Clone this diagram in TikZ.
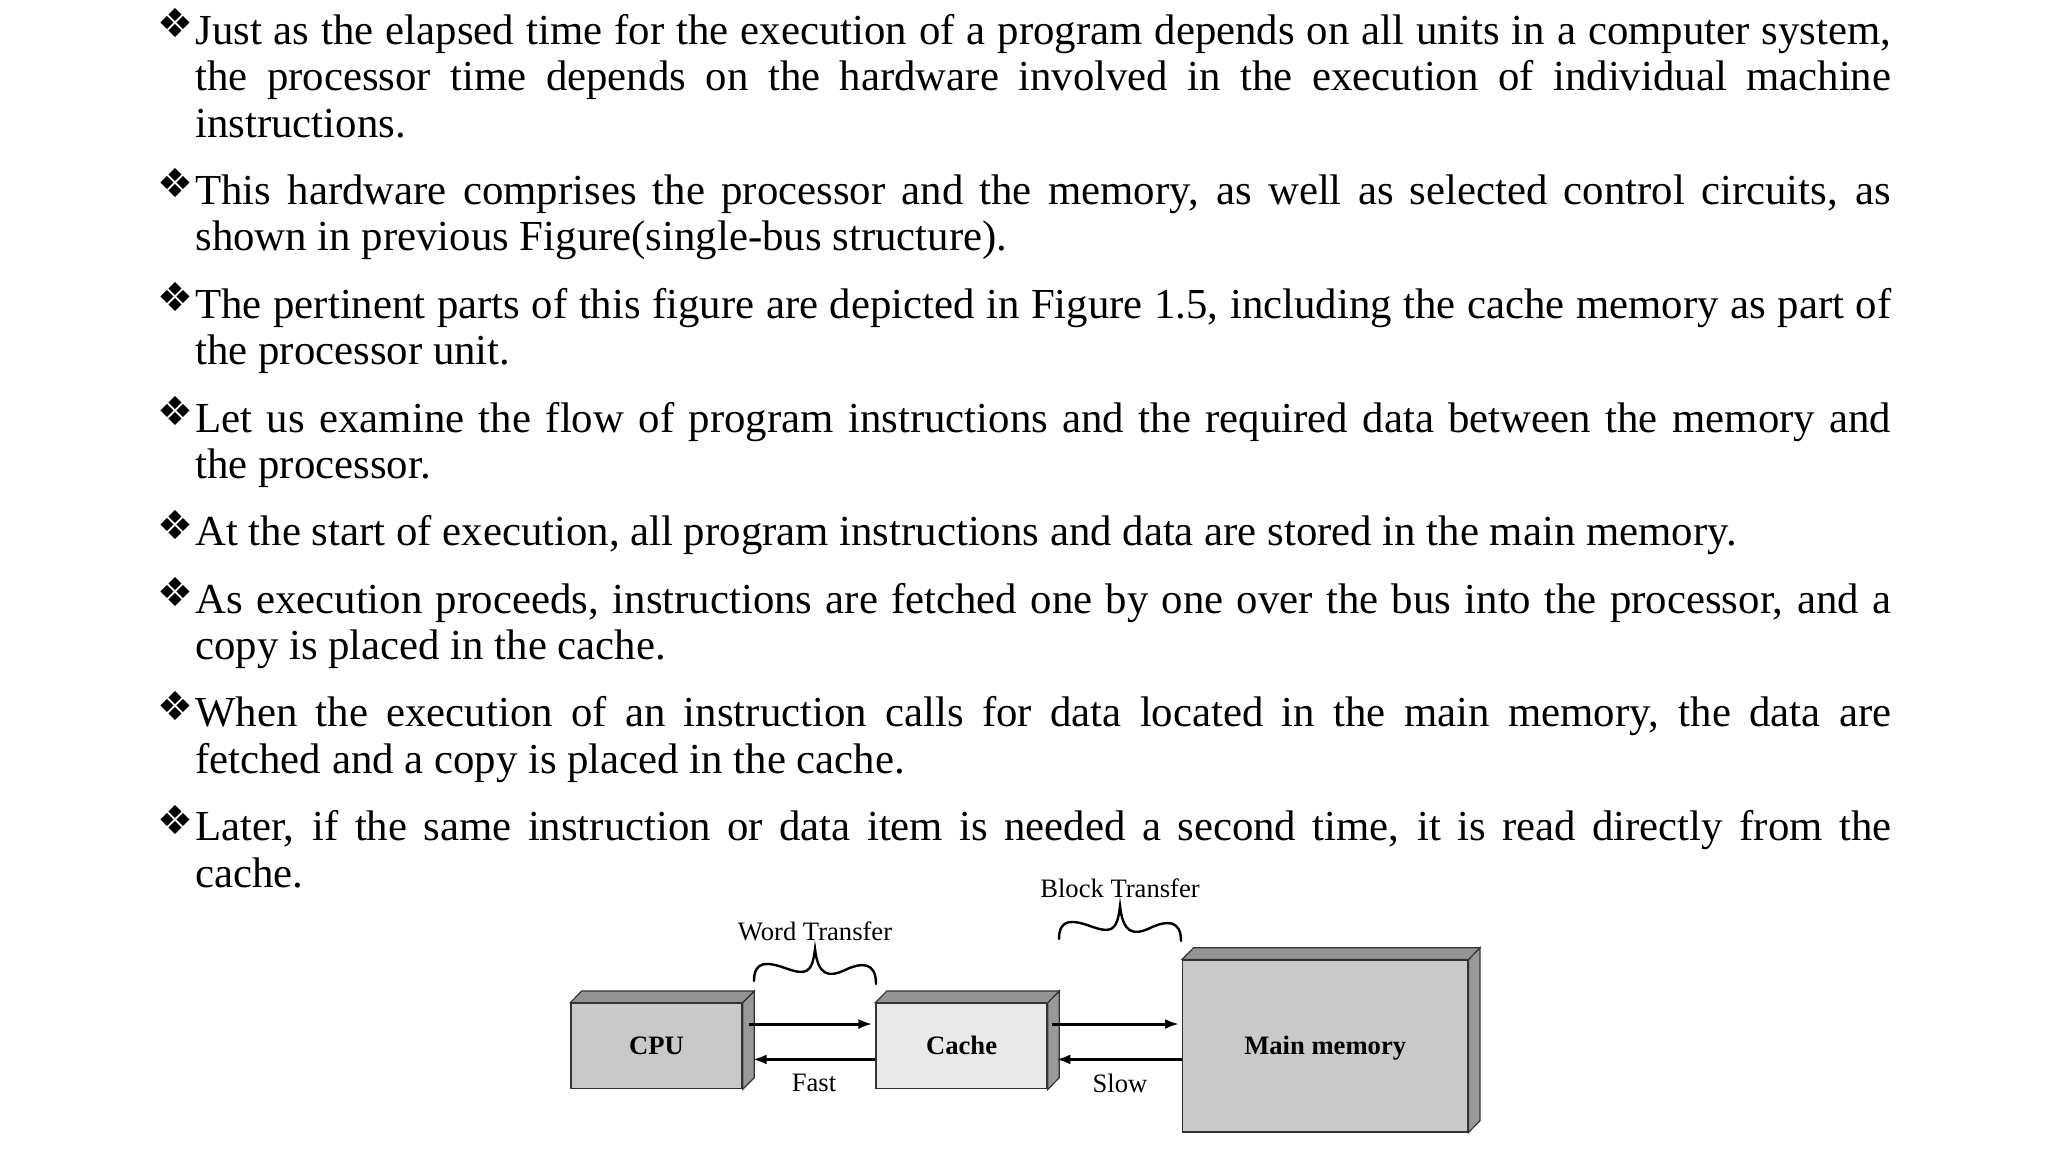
\documentclass[tikz,border=0pt]{standalone}
\usepackage{fontspec}
\setmainfont{Liberation Serif}
\newfontfamily\dejavu{DejaVu Sans}
\usetikzlibrary{arrows.meta, positioning}
\definecolor{frontgray}{gray}{0.79}
\definecolor{cachegray}{gray}{0.91}
\definecolor{topgray}{gray}{0.58}
\definecolor{sidegray}{gray}{0.6}
\definecolor{edgegray}{gray}{0.2}
% top and right faces behind a front box
\newcommand{\sideface}[1]{%
\draw[line width=0.6pt, edgegray, fill=sidegray] ([xshift=5.75pt,yshift=5.85pt]#1.north east) -- ([xshift=5.75pt,yshift=5.85pt]#1.south east) -- (#1.south east) -- (#1.north east) -- cycle;
\draw[line width=0.6pt, edgegray, fill=topgray] (#1.north west) -- ([xshift=5.75pt,yshift=5.85pt]#1.north west) -- ([xshift=5.75pt,yshift=5.85pt]#1.north east) -- (#1.north east) -- cycle;
\draw[line width=1pt, edgegray] (#1.north west) -- (#1.north east);
}
\begin{document}
\begin{tikzpicture}[x=0.5pt, y=-0.5pt, >={Latex[length=7pt,width=5pt]},
  para/.style={anchor=north west, text width=847.9pt, align=justify, inner sep=0pt, font=\fontsize{21.4}{23.15}\selectfont},
  bullet/.style={inner sep=0pt, font=\dejavu\fontsize{20}{20}\selectfont},
  unit/.style={draw=edgegray, line width=0.7pt, inner sep=0pt, minimum height=42.7pt, text height=9pt, text depth=1pt, font=\bfseries\fontsize{13.3}{15}\selectfont},
  flow/.style={->, line width=1.5pt},
  lab/.style={inner sep=0pt, font=\fontsize{13.3}{15}\selectfont},
  brace/.style={line width=1.2pt, line cap=round}]
\useasboundingbox (0,0) rectangle (2048,1152);
\node[para] (p1) at (195,11.6) {\strut Just as the elapsed time for the execution of a program depends on all units in a computer system,\linebreak the processor time depends on the hardware involved in the execution of individual machine\linebreak instructions.\strut};
\node[para, below=10.18pt of p1.south west, anchor=north west] (p2) {\strut This hardware comprises the processor and the memory, as well as selected control circuits, as\linebreak shown in previous Figure(single-bus structure).\strut};
\node[para, below=10.18pt of p2.south west, anchor=north west] (p3) {\strut The pertinent parts of this figure are depicted in Figure 1.5, including the cache memory as part of\linebreak the processor unit.\strut};
\node[para, below=10.18pt of p3.south west, anchor=north west] (p4) {\strut Let us examine the flow of program instructions and the required data between the memory and\linebreak the processor.\strut};
\node[para, below=10.18pt of p4.south west, anchor=north west] (p5) {\strut At the start of execution, all program instructions and data are stored in the main memory.\strut};
\node[para, below=10.18pt of p5.south west, anchor=north west] (p6) {\strut As execution proceeds, instructions are fetched one by one over the bus into the processor, and a\linebreak copy is placed in the cache.\strut};
\node[para, below=10.18pt of p6.south west, anchor=north west] (p7) {\strut When the execution of an instruction calls for data located in the main memory, the data are\linebreak fetched and a copy is placed in the cache.\strut};
\node[para, below=10.18pt of p7.south west, anchor=north west] (p8) {\strut Later, if the same instruction or data item is needed a second time, it is read directly from the\linebreak cache.\strut};
\node[bullet] (b1) at ([xshift=-10pt,yshift=-5.8pt]p1.north west) {❖};
\node[bullet] (b2) at ([xshift=-10pt,yshift=-5.8pt]p2.north west) {❖};
\node[bullet] (b3) at ([xshift=-10pt,yshift=-5.8pt]p3.north west) {❖};
\node[bullet] (b4) at ([xshift=-10pt,yshift=-5.8pt]p4.north west) {❖};
\node[bullet] (b5) at ([xshift=-10pt,yshift=-5.8pt]p5.north west) {❖};
\node[bullet] (b6) at ([xshift=-10pt,yshift=-5.8pt]p6.north west) {❖};
\node[bullet] (b7) at ([xshift=-10pt,yshift=-5.8pt]p7.north west) {❖};
\node[bullet] (b8) at ([xshift=-10pt,yshift=-5.8pt]p8.north west) {❖};
% the three units
\node[unit, fill=frontgray, minimum width=85.5pt] (cpu) at (656.5,1046) {CPU};
\node[unit, fill=cachegray, minimum width=85.5pt, right=66.35pt of cpu] (cache) {Cache};
\node[unit, fill=frontgray, minimum width=142.5pt, minimum height=85.8pt, right=67.1pt of cache] (mem) {Main memory};
\sideface{cpu}
\sideface{cache}
\sideface{mem}
\draw[flow] ([xshift=3pt,yshift=11pt]cpu.east) -- ([xshift=-1.5pt,yshift=11pt]cache.west);
\draw[flow] ([yshift=-6.7pt]cache.west) -- ([xshift=5pt,yshift=-6.7pt]cpu.east);
\draw[flow] ([xshift=2.25pt,yshift=11pt]cache.east) -- ([xshift=-1.5pt,yshift=11pt]mem.west);
\draw[flow] ([yshift=-6.7pt]mem.west) -- ([xshift=4.25pt,yshift=-6.7pt]cache.east);
\node[lab] (fast) at (814,1083) {Fast};
\node[lab] (slow) at (1120,1083) {Slow};
\node[lab] (word) at (815,931) {Word Transfer};
\node[lab] (block) at (1120,888) {Block Transfer};
% hand drawn braces
\draw[brace] (754,981) .. controls (754,960) and (768,962) .. (785,968) .. controls (805,975) and (812,975) .. (815,949) .. controls (818,975) and (828,978) .. (845,970) .. controls (862,962) and (876,962) .. (876,984);
\draw[brace] (1059,939) .. controls (1059,918) and (1073,920) .. (1090,926) .. controls (1110,933) and (1117,933) .. (1120,906) .. controls (1123,933) and (1133,936) .. (1150,928) .. controls (1167,920) and (1181,920) .. (1181,941);
\end{tikzpicture}
\end{document}
